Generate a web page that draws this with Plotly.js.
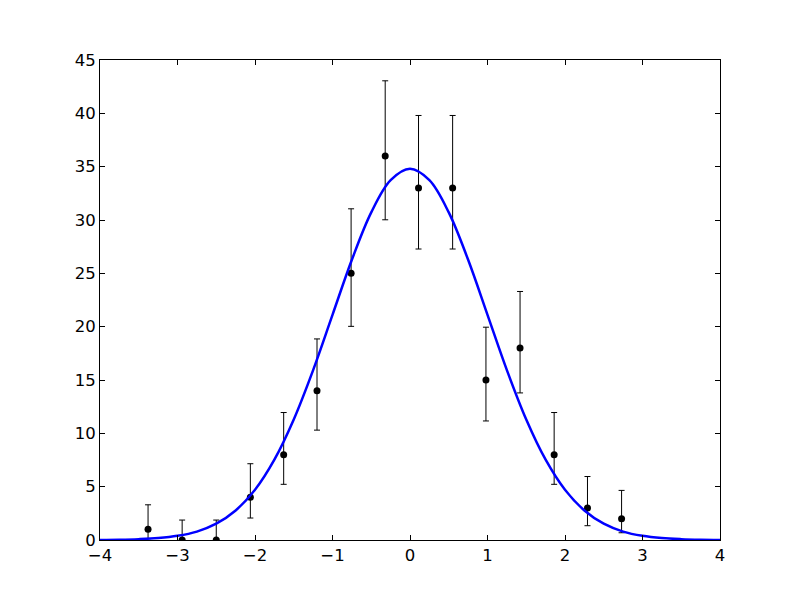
<!DOCTYPE html>
<html>
<head>
<meta charset="utf-8">
<script src="https://cdn.plot.ly/plotly-3.0.1.min.js"></script>
<style>html,body{margin:0;padding:0;background:#fff;}#chart{width:800px;height:600px;}</style>
</head>
<body>
<div id="chart"></div>
<script>
// Data points (bin centres, counts) and asymmetric error bars
var binX = [-3.38, -2.94, -2.50, -2.06, -1.63, -1.20, -0.76, -0.32, 0.11, 0.55, 0.98, 1.42, 1.86, 2.29, 2.73];
var counts = [1, 0, 0, 4, 8, 14, 25, 36, 33, 33, 15, 18, 8, 3, 2];
var errUp = [2.3, 1.87, 1.87, 3.15, 3.95, 4.85, 6.05, 7.05, 6.8, 6.8, 4.95, 5.3, 3.95, 2.95, 2.65];
var errDown = [0.87, 0, 0, 1.94, 2.78, 3.7, 4.97, 5.98, 5.72, 5.72, 3.84, 4.21, 2.78, 1.66, 1.32];

// Fitted curve samples
var curveX = [-4, -3.75, -3.5, -3.25, -3, -2.75, -2.5, -2.25, -2, -1.75, -1.5, -1.25, -1, -0.75, -0.5, -0.25, 0,
              0.25, 0.5, 0.75, 1, 1.25, 1.5, 1.75, 2, 2.25, 2.5, 2.75, 3, 3.25, 3.5, 3.75, 4];
var curveY = [0.01, 0.03, 0.08, 0.18, 0.39, 0.79, 1.53, 2.77, 4.71, 7.53, 11.3, 15.93, 21.11, 26.27, 30.71, 33.73, 34.8,
              33.73, 30.71, 26.27, 21.11, 15.93, 11.3, 7.53, 4.71, 2.77, 1.53, 0.79, 0.39, 0.18, 0.08, 0.03, 0.01];

var xTicks = [-4, -3, -2, -1, 0, 1, 2, 3, 4];
var xTickText = ['\u22124', '\u22123', '\u22122', '\u22121', '0', '1', '2', '3', '4'];
var yTicks = [0, 5, 10, 15, 20, 25, 30, 35, 40, 45];

var traces = [
  {
    x: binX, y: counts, type: 'scatter', mode: 'markers',
    marker: {color: '#000000', size: 7},
    error_y: {type: 'data', symmetric: false, array: errUp, arrayminus: errDown,
              color: '#000000', thickness: 1, width: 3},
    showlegend: false
  },
  {
    x: curveX, y: curveY, type: 'scatter', mode: 'lines',
    line: {color: '#0000ff', width: 2.5, shape: 'spline', smoothing: 1},
    showlegend: false
  }
];

var axisFont = {family: 'DejaVu Sans, sans-serif', size: 16.5, color: '#000000'};
var layout = {
  width: 800, height: 600,
  margin: {l: 100, r: 80, t: 60, b: 60, pad: 0},
  paper_bgcolor: '#ffffff', plot_bgcolor: '#ffffff',
  xaxis: {
    range: [-4, 4], tickmode: 'array', tickvals: xTicks, ticktext: xTickText,
    ticks: 'inside', ticklen: 5, tickwidth: 1, tickcolor: '#000',
    showline: true, linecolor: '#000', linewidth: 1, mirror: 'ticks',
    showgrid: false, zeroline: false, tickfont: axisFont
  },
  yaxis: {
    range: [0, 45], tickmode: 'array', tickvals: yTicks,
    ticks: 'inside', ticklen: 5, tickwidth: 1, tickcolor: '#000',
    showline: true, linecolor: '#000', linewidth: 1, mirror: 'ticks',
    showgrid: false, zeroline: false, tickfont: axisFont
  },
  showlegend: false
};

Plotly.newPlot('chart', traces, layout, {displayModeBar: false, staticPlot: true});
</script>
</body>
</html>
